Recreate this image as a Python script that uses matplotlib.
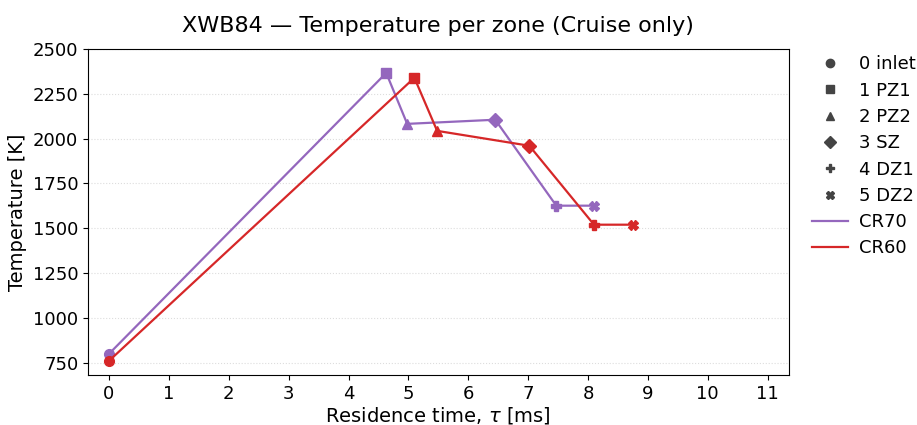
import matplotlib
matplotlib.use("Agg")
import matplotlib.pyplot as plt
from matplotlib.lines import Line2D

zones = ["0 inlet", "1 PZ1", "2 PZ2", "3 SZ", "4 DZ1", "5 DZ2"]
markers = ["o", "s", "^", "D", "P", "X"]

tau_cr70 = [0.0, 4.63, 4.98, 6.45, 7.47, 8.1]
temp_cr70 = [800, 2366, 2082, 2105, 1626, 1626]

tau_cr60 = [0.0, 5.1, 5.48, 7.02, 8.1, 8.75]
temp_cr60 = [761, 2339, 2043, 1960, 1520, 1520]

series = [("CR70", tau_cr70, temp_cr70, "tab:purple"),
          ("CR60", tau_cr60, temp_cr60, "tab:red")]

fig, ax = plt.subplots(figsize=(9.17, 4.25), dpi=100)

for name, x, y, c in series:
    ax.plot(x, y, color=c, lw=1.6)
    for xi, yi, m in zip(x, y, markers):
        ax.plot(xi, yi, marker=m, color=c, ms=7, ls="none")

ax.set_xlim(-0.35, 11.35)
ax.set_ylim(683, 2500)
ax.set_xticks(range(0, 12))
ax.set_yticks(range(750, 2501, 250))
ax.tick_params(labelsize=13)
ax.grid(axis="y", ls=":", color="#dddddd", lw=0.8)
ax.set_xlabel(r"Residence time, $\tau$ [ms]", fontsize=14, labelpad=2)
ax.set_ylabel("Temperature [K]", fontsize=14)
ax.set_title("XWB84 — Temperature per zone (Cruise only)", fontsize=16, pad=12)

handles = [Line2D([], [], marker=m, color="#444444", ls="none", ms=6) for m in markers]
handles += [Line2D([], [], color=c, lw=1.6) for _, _, _, c in series]
labels = zones + [s[0] for s in series]
ax.legend(handles, labels, loc="upper left", bbox_to_anchor=(1.01, 1.03),
          frameon=False, fontsize=13, handlelength=2.0, handletextpad=0.6,
          labelspacing=0.46)

fig.subplots_adjust(left=0.096, right=0.86, top=0.885, bottom=0.118)
fig.savefig("out.png")
